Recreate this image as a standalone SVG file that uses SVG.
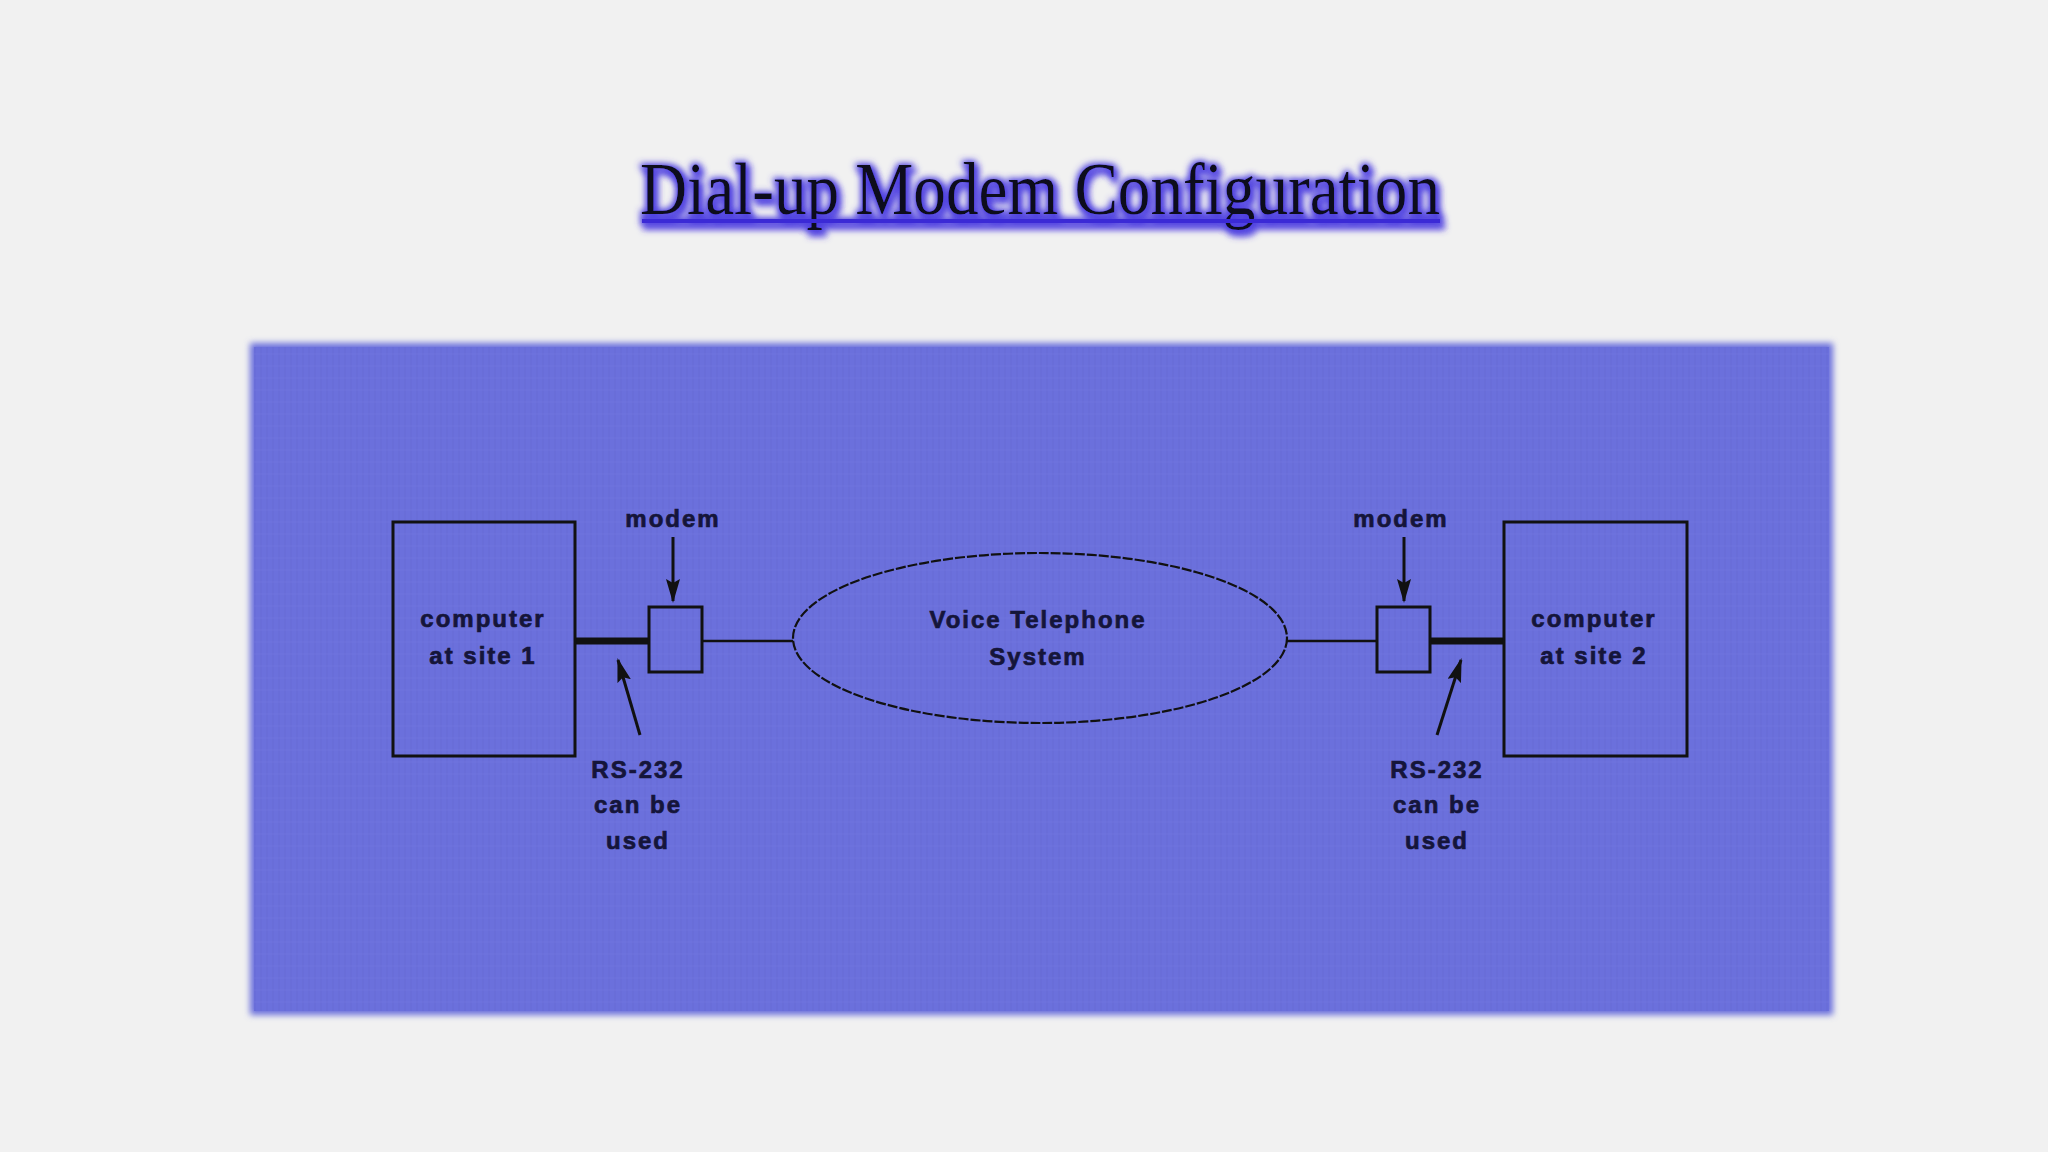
<svg xmlns="http://www.w3.org/2000/svg" width="2048" height="1152" viewBox="0 0 2048 1152">
<defs>
<style>
.lbl{font-family:"Liberation Sans",Arial,sans-serif;font-weight:bold;font-size:24px;letter-spacing:2px;fill:#15153a;stroke:#15153a;stroke-width:0.7;text-anchor:middle}
.box{fill:none;stroke:#111;stroke-width:3}
.thin{stroke:#111;stroke-width:2.5;fill:none}
.thick{stroke:#111;stroke-width:7;fill:none}
.arr{stroke:#111;stroke-width:3;fill:none;marker-end:url(#ah)}
</style>
<marker id="ah" viewBox="0 0 24 14" refX="22" refY="7" markerWidth="24" markerHeight="14" markerUnits="userSpaceOnUse" orient="auto">
<path d="M0,0 L24,7 L0,14 L4,7 Z" fill="#111"/>
</marker>
<filter id="glow" x="-10%" y="-50%" width="120%" height="200%">
<feMorphology in="SourceAlpha" operator="dilate" radius="1.5" result="d"/>
<feGaussianBlur in="d" stdDeviation="3" result="b"/>
<feFlood flood-color="#4a3ce0" flood-opacity="0.85"/>
<feComposite in2="b" operator="in" result="g"/>
<feOffset in="g" dx="3" dy="5" result="sh"/>
<feMerge><feMergeNode in="sh"/><feMergeNode in="g"/><feMergeNode in="SourceGraphic"/></feMerge>
</filter>
<filter id="soft" x="-2%" y="-2%" width="104%" height="104%">
<feGaussianBlur stdDeviation="3"/>
</filter>
<pattern id="tex" width="12" height="12" patternUnits="userSpaceOnUse">
<rect width="12" height="12" fill="#6b70dc"/>
<path d="M3,0 V12 M9,0 V12" stroke="#6166cf" stroke-width="1" opacity="0.6"/>
<path d="M0,6 H12" stroke="#7378e0" stroke-width="1" opacity="0.5"/>
</pattern>
</defs>
<rect width="2048" height="1152" fill="#f1f1f1"/>
<g id="title" filter="url(#glow)">
<text x="1040" y="214" text-anchor="middle" font-family="Liberation Serif,'DejaVu Serif',serif" font-size="74" fill="#0a0a1a" textLength="800" lengthAdjust="spacingAndGlyphs">Dial-up Modem Configuration</text>
<rect x="642" y="219" width="798" height="4" fill="#3a2ad6"/>
</g>
<g id="panel">
<rect x="250" y="343" width="1583" height="672" fill="#6b70dc" filter="url(#soft)"/>
<rect x="254" y="347" width="1575" height="664" fill="url(#tex)"/>
</g>
<g id="connectors">
<line class="thick" x1="575" y1="641" x2="649" y2="641"/>
<line class="thin" x1="702" y1="641" x2="793" y2="641"/>
<line class="thin" x1="1287" y1="641" x2="1377" y2="641"/>
<line class="thick" x1="1430" y1="641" x2="1504" y2="641"/>
<line class="arr" x1="673" y1="537" x2="673" y2="601"/>
<line class="arr" x1="1404" y1="537" x2="1404" y2="601"/>
<line class="arr" x1="640" y1="735" x2="618" y2="660"/>
<line class="arr" x1="1437" y1="735" x2="1461" y2="660"/>
</g>
<g id="computer1">
<rect class="box" x="393" y="522" width="182" height="234"/>
<text class="lbl" x="483" y="627">computer</text>
<text class="lbl" x="483" y="664">at site 1</text>
</g>
<g id="modem1">
<rect class="box" x="649" y="607" width="53" height="65"/>
<text class="lbl" x="673" y="527">modem</text>
</g>
<g id="phone">
<ellipse cx="1040" cy="638" rx="247" ry="85" fill="none" stroke="#111" stroke-width="2.2" stroke-dasharray="10 2"/>
<text class="lbl" x="1038" y="628">Voice Telephone</text>
<text class="lbl" x="1038" y="665">System</text>
</g>
<g id="modem2">
<rect class="box" x="1377" y="607" width="53" height="65"/>
<text class="lbl" x="1401" y="527">modem</text>
</g>
<g id="computer2">
<rect class="box" x="1504" y="522" width="183" height="234"/>
<text class="lbl" x="1594" y="627">computer</text>
<text class="lbl" x="1594" y="664">at site 2</text>
</g>
<g id="rs232-1">
<text class="lbl" x="638" y="778">RS-232</text>
<text class="lbl" x="638" y="813">can be</text>
<text class="lbl" x="638" y="849">used</text>
</g>
<g id="rs232-2">
<text class="lbl" x="1437" y="778">RS-232</text>
<text class="lbl" x="1437" y="813">can be</text>
<text class="lbl" x="1437" y="849">used</text>
</g>
</svg>
